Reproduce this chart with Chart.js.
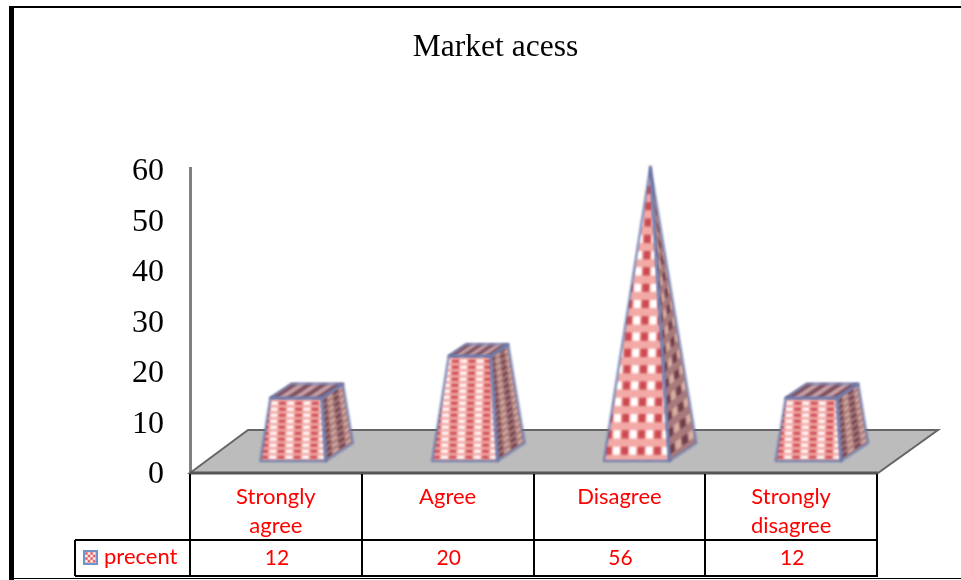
<!DOCTYPE html>
<html>
<head>
<meta charset="utf-8">
<style>
html,body{margin:0;padding:0;background:#fff;overflow:hidden}
#wrap{width:961px;height:580px;position:relative}
</style>
<script src="https://cdn.jsdelivr.net/npm/chart.js@4"></script>
</head>
<body>
<div id="wrap"><canvas id="c" width="961" height="580"></canvas></div>
<script>
const chartTitle = "Market acess";
const categories = ["Strongly agree", "Agree", "Disagree", "Strongly disagree"];
const seriesName = "precent";
const values = [12, 20, 56, 12];
const yTicks = [0, 10, 20, 30, 40, 50, 60];

const RED = "#ff0000";
const LABEL_FONT = '22px Lato';
const VALUE_FONT = '21px Lato';
const SERIF = '"Liberation Serif"';

function lerp(a, b, t) { return { x: a.x + (b.x - a.x) * t, y: a.y + (b.y - a.y) * t }; }
function bilinear(q, u, v) { return lerp(lerp(q[0], q[1], u), lerp(q[3], q[2], u), v); }
function poly(ctx, pts) {
  ctx.beginPath();
  pts.forEach((p, i) => i ? ctx.lineTo(p.x, p.y) : ctx.moveTo(p.x, p.y));
  ctx.closePath();
}
function cell(ctx, q, u0, u1, v0, v1, color) {
  ctx.fillStyle = color;
  poly(ctx, [bilinear(q, u0, v0), bilinear(q, u1, v0), bilinear(q, u1, v1), bilinear(q, u0, v1)]);
  ctx.fill();
}
// Pattern stays at screen size: it is laid on a tilted sheet and clipped to the face.
function checker(ctx, face, sheet, cols, rows, bg, dark, light) {
  ctx.save();
  poly(ctx, face); ctx.clip();
  ctx.fillStyle = bg; ctx.fill();
  for (let r = 0; r < rows; r++) {
    const v0 = (r + 0.12) / rows, v1 = (r + 0.62) / rows;
    for (let c = 0; c < cols; c++) {
      cell(ctx, sheet, (c + 0.08) / cols, (c + 0.92) / cols, v0, v1, c % 2 ? light : dark);
    }
  }
  ctx.restore();
}
function stripes(ctx, q, cols, bg, dark) {
  ctx.fillStyle = bg; poly(ctx, q); ctx.fill();
  for (let c = 0; c < cols; c += 2) cell(ctx, q, c / cols, (c + 1) / cols, 0, 1, dark);
}

const frustums = {
  id: "frustums",
  beforeDatasetsDraw(chart) {
    const { ctx, chartArea: a } = chart;
    ctx.save();
    ctx.fillStyle = "#bcbcbc";
    ctx.strokeStyle = "#666";
    ctx.lineWidth = 2;
    poly(ctx, [
      { x: a.left, y: a.bottom + 1 },
      { x: a.left + 58, y: a.bottom - 42 },
      { x: a.right + 61, y: a.bottom - 42 },
      { x: a.right + 1, y: a.bottom + 1 }
    ]);
    ctx.fill(); ctx.stroke();
    ctx.strokeStyle = "#555"; ctx.lineWidth = 3;
    ctx.beginPath(); ctx.moveTo(a.left, a.bottom + 1); ctx.lineTo(a.right + 1, a.bottom + 1); ctx.stroke();
    ctx.restore();
  },
  afterDatasetsDraw(chart) {
    const { ctx } = chart;
    const y = chart.scales.y;
    const meta = chart.getDatasetMeta(0);
    const top = y.getPixelForValue(Math.max(...values));
    meta.data.forEach((el) => {
      const baseY = el.base - 11;
      const apex = { x: el.x + 31, y: baseY - (el.base - top) * 1.04 };
      const t = (el.base - el.y) / (el.base - top);
      const fl = { x: el.x - 15.5, y: baseY }, fr = { x: el.x + 50, y: baseY };
      const br = { x: fr.x + 27, y: baseY - 18 }, bl = { x: fl.x + 27, y: baseY - 18 };
      const tfl = lerp(fl, apex, t), tfr = lerp(fr, apex, t), tbr = lerp(br, apex, t), tbl = lerp(bl, apex, t);
      const h = baseY - tfl.y;
      const pitch = t > 0.9 ? 16.3 : 6;
      const rows = Math.ceil(h / pitch);
      const sheetH = rows * pitch;
      const lean = sheetH * 0.03;
      const frontSheet = [
        { x: fl.x + lean, y: baseY - sheetH }, { x: fr.x + lean, y: baseY - sheetH }, fr, fl
      ];
      const sideSheet = [
        { x: fr.x - sheetH * 0.07, y: baseY - sheetH },
        { x: br.x - sheetH * 0.16, y: br.y - sheetH },
        br, fr
      ];
      ctx.save();
      ctx.filter = "blur(0.8px)";
      checker(ctx, [tfr, tbr, br, fr], sideSheet, 4, rows, "#a87a7c", "#6e3c4a", "#d9b0a0");
      checker(ctx, [tfl, tfr, fr, fl], frontSheet, 8, rows, "#f3aaa6", "#cb4a52", "#ffffff");
      if (t < 0.99) stripes(ctx, [tbl, tbr, tfr, tfl], 7, "#c9a4aa", "#7d4c5a");
      ctx.strokeStyle = "#6c78aa";
      ctx.lineWidth = 2;
      ctx.lineJoin = "round";
      poly(ctx, [tfl, tfr, fr, fl]); ctx.stroke();
      poly(ctx, [tfr, tbr, br, fr]); ctx.stroke();
      if (t < 0.99) { poly(ctx, [tbl, tbr, tfr, tfl]); ctx.stroke(); }
      ctx.restore();
    });
  },
  afterDraw(chart) {
    const { ctx, chartArea: a } = chart;
    const x = chart.scales.x;
    const colW = (a.right - a.left) / categories.length;
    const rowTop = a.bottom + 68, rowBottom = a.bottom + 104, keyLeft = a.left - 115;
    ctx.save();
    ctx.strokeStyle = "#000";
    ctx.lineWidth = 2;
    ctx.beginPath();
    for (let i = 0; i <= categories.length; i++) {
      const px = Math.round(a.left + i * colW);
      ctx.moveTo(px, a.bottom + 2); ctx.lineTo(px, rowBottom);
    }
    ctx.moveTo(keyLeft, rowTop); ctx.lineTo(a.right + 1, rowTop);
    ctx.moveTo(keyLeft, rowBottom); ctx.lineTo(a.right + 1, rowBottom);
    ctx.moveTo(keyLeft, rowTop); ctx.lineTo(keyLeft, rowBottom);
    ctx.stroke();
    ctx.fillStyle = RED;
    ctx.font = VALUE_FONT;
    ctx.textBaseline = "middle";
    ctx.textAlign = "center";
    values.forEach((v, i) => ctx.fillText(String(v), x.getPixelForValue(i) + 1, rowTop + 18));
    ctx.font = LABEL_FONT;
    ctx.textAlign = "left";
    ctx.fillText(seriesName, keyLeft + 29, rowTop + 17);
    const kx = keyLeft + 8, ky = rowTop + 10, ks = 15;
    ctx.filter = "blur(0.4px)";
    ctx.fillStyle = "#6f93cc"; ctx.fillRect(kx, ky, ks, ks);
    ctx.fillStyle = "#f4aaa6"; ctx.fillRect(kx + 2, ky + 2, ks - 4, ks - 4);
    for (let r = 0; r < 4; r++) for (let c = 0; c < 4; c++) {
      ctx.fillStyle = (r + c) % 2 ? "#ffffff" : "#cf4f56";
      ctx.fillRect(kx + 2.5 + c * 2.6, ky + 2.5 + r * 2.6, 1.8, 1.8);
    }
    ctx.filter = "none";
    ctx.fillStyle = "#000";
    ctx.fillRect(9, 6, 5, chart.height - 6);
    ctx.fillRect(9, 6, chart.width - 9, 2);
    ctx.fillRect(9, chart.height - 2, chart.width - 9, 1);
    ctx.restore();
  }
};

new Chart(document.getElementById("c"), {
  type: "bar",
  data: {
    labels: categories,
    datasets: [{ label: seriesName, data: values, backgroundColor: "rgba(0,0,0,0)", borderWidth: 0, categoryPercentage: 1, barPercentage: 0.4 }]
  },
  plugins: [frustums],
  options: {
    responsive: false,
    animation: false,
    events: [],
    layout: { padding: { left: 114, right: 84, top: 29, bottom: 0 } },
    plugins: {
      legend: { display: false },
      tooltip: { enabled: false },
      title: {
        display: true,
        text: chartTitle,
        color: "#000",
        font: { family: SERIF, size: 31.5, weight: "normal" },
        padding: { top: 0, bottom: 102 }
      }
    },
    scales: {
      y: {
        min: 0, max: 60,
        afterBuildTicks(s) { s.ticks = yTicks.map(v => ({ value: v })); },
        afterFit(s) { s.width = 76; },
        grid: { display: false, drawTicks: false },
        border: { display: true, color: "#808080", width: 3 },
        ticks: { color: "#000", font: { family: SERIF, size: 32 }, padding: 26, labelOffset: 3, autoSkip: false }
      },
      x: {
        afterFit(s) { s.height = 108; },
        grid: { display: false, drawTicks: false },
        border: { display: false },
        ticks: {
          color: RED,
          font: { family: "Lato", size: 22, lineHeight: 1.32 },
          padding: 10,
          maxRotation: 0,
          autoSkip: false,
          callback(v) { return this.getLabelForValue(v).split(" "); }
        }
      }
    }
  }
});
</script>
</body>
</html>
